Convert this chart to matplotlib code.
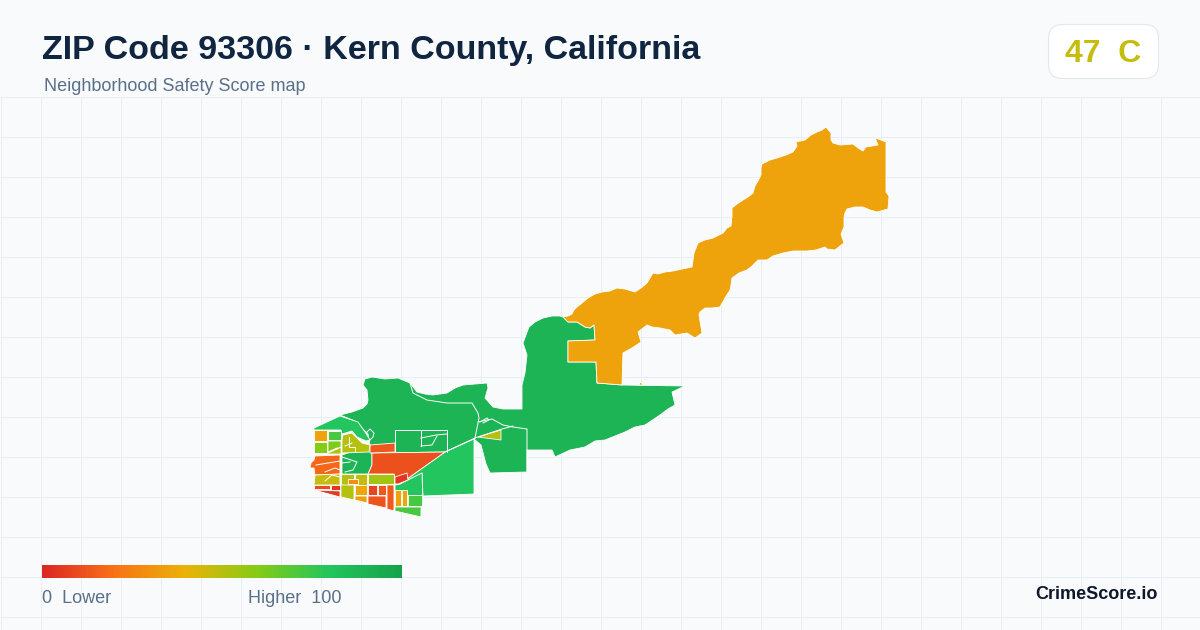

import matplotlib
matplotlib.use("Agg")
import matplotlib.pyplot as plt
import numpy as np
from matplotlib.colors import LinearSegmentedColormap
from matplotlib.patches import FancyBboxPatch, Polygon

plt.rcParams["font.family"] = ["Liberation Sans", "DejaVu Sans"]

TITLE = "ZIP Code 93306 · Kern County, California"
SUBTITLE = "Neighborhood Safety Score map"
OVERALL_SCORE = 47
OVERALL_GRADE = "C"

SCALE_STOPS = [0.0, 0.2, 0.4, 0.6, 0.8, 1.0]
SCALE_COLORS = ["#dc2626", "#f97316", "#eab308", "#84cc16", "#22c55e", "#16a34a"]

# tract outlines
EAST_TRACT = [
    (563, 317), (568, 316), (572, 314), (574, 310), (577, 307), (582, 303), (588, 298), (595, 294),
    (602, 292), (610, 291), (617, 288), (625, 289), (635, 292), (641, 288), (647, 283), (650, 278),
    (653, 273), (658, 274), (665, 272), (673, 271), (682, 269), (692, 267), (693, 260), (694, 253),
    (698, 243), (705, 240), (713, 238), (723, 233), (727, 228), (731, 226), (732, 216), (732, 208),
    (737, 204), (743, 200), (748, 197), (753, 193), (755, 186), (758, 181), (761, 175), (761, 168),
    (762, 164), (770, 160), (777, 158), (786, 155), (793, 152), (797, 146), (796, 142), (805, 140),
    (811, 135), (817, 132), (822, 130), (826, 127), (831, 133), (831, 140), (833, 143), (840, 145),
    (853, 144), (858, 148), (863, 151), (866, 147), (878, 145), (875, 138), (881, 140), (886, 142),
    (886, 170), (886, 192), (889, 196), (888, 209), (877, 212), (870, 210), (863, 207), (855, 207),
    (847, 209), (845, 213), (844, 218), (844, 227), (841, 234), (844, 243), (840, 246), (835, 250),
    (827, 249), (825, 247), (816, 250), (807, 251), (793, 251), (783, 253), (773, 256), (767, 260),
    (758, 260), (752, 266), (747, 270), (739, 273), (732, 278), (731, 285), (730, 290), (725, 298),
    (720, 307), (712, 308), (705, 308), (700, 312), (699, 315), (702, 333), (695, 338), (687, 333),
    (675, 335), (670, 330), (660, 328), (652, 327), (647, 325), (638, 332), (641, 342), (632, 348),
    (623, 353), (622, 385), (597, 383), (596, 362), (568, 362), (568, 341), (595, 340), (594, 325),
    (590, 328), (585, 327), (577, 322), (568, 322),
]
EAST_SLIVER = [(639, 385), (640, 382), (644, 385)]
MAIN_TRACT = [
    (314, 428), (340, 415), (352, 412), (363, 408), (367, 404), (368, 400), (367, 390), (363, 385),
    (365, 379), (372, 377), (385, 379), (398, 378), (410, 383), (417, 392), (425, 394), (433, 395),
    (447, 393), (455, 388), (463, 385), (475, 384), (487, 383), (488, 388), (485, 398), (493, 407),
    (503, 409), (522, 409), (522, 385), (525, 373), (527, 355), (523, 343), (526, 335), (529, 327),
    (535, 322), (543, 318), (552, 316), (560, 316), (563, 317), (568, 322), (577, 322), (585, 327),
    (590, 328), (594, 325), (595, 340), (568, 341), (568, 362), (596, 362), (597, 383), (622, 385),
    (685, 386), (672, 392), (675, 405), (668, 409), (660, 415), (645, 425), (635, 427), (625, 432),
    (605, 440), (595, 441), (585, 447), (570, 450), (555, 457), (552, 450), (527, 450), (527, 472),
    (490, 473), (486, 464), (481, 445), (474, 439), (445, 452), (372, 453), (372, 465), (368, 474),
    (342, 474), (342, 455), (370, 445), (368, 434), (355, 421), (340, 415),
]
NORTHWEST_STRIP = [
    (314, 428), (340, 416), (358, 422), (365, 432), (370, 440), (366, 441), (357, 437), (352, 431),
    (342, 434), (341, 430), (314, 430),
]
SOUTHEAST_TRACT = [(445, 452), (474, 439), (474, 494), (423, 496), (422, 473), (400, 484)]
SOUTH_LOBE = [(400, 484), (422, 473), (423, 505), (408, 505), (408, 495), (395, 495), (395, 485)]
SOUTH_TIP = [(395, 507), (421, 507), (421, 517), (395, 511)]
SOUTH_BOX = [(408, 495), (422, 495), (422, 506), (408, 506)]
STRIP_A = [(395, 490), (401, 490), (401, 506), (395, 506)]
STRIP_B = [(402, 490), (407, 490), (407, 506), (402, 506)]
BIG_WEDGE = [(372, 453), (445, 452), (400, 484), (394, 484), (394, 474), (368, 474), (372, 465)]
SMALL_WEDGE = [(395, 477), (407, 473), (408, 480), (398, 484), (395, 484)]
TOP_BAND = [(370, 445), (395, 443), (395, 452), (370, 453)]
NE_TRIANGLE = [(478, 437), (501, 430), (501, 440)]
CELL_1 = [(314, 430), (327, 430), (327, 441), (314, 441)]
CELL_2 = [(328, 431), (341, 431), (341, 440), (328, 440)]
CELL_3 = [(314, 442), (327, 442), (327, 453), (314, 453)]
CELL_4 = [(328, 441), (341, 441), (341, 448), (337, 448), (328, 452)]
CELL_4B = [(337, 449), (341, 447), (341, 454), (328, 454), (328, 453)]
CELL_5 = [(342, 440), (343, 435), (352, 433), (357, 438), (362, 443), (370, 445), (369, 452), (342, 453)]
CELL_6 = [(315, 456), (340, 455), (340, 474), (315, 475), (314, 468), (310, 468), (311, 463), (314, 460)]
CELL_7 = [(315, 475), (340, 474), (340, 485), (314, 485)]
CELL_8 = [(341, 474), (354, 474), (354, 485), (341, 485)]
CELL_10 = [(355, 474), (367, 474), (367, 485), (355, 485)]
CELL_9 = [(348, 479), (358, 479), (358, 484), (348, 484)]
CELL_11 = [(368, 474), (394, 474), (394, 484), (368, 484)]
CELL_12 = [(314, 485), (330, 485), (330, 489), (314, 489)]
CELL_12B = [(331, 485), (340, 485), (340, 490), (331, 490)]
CELL_12C = [(314, 490), (340, 491), (340, 497)]
CELL_13 = [(341, 485), (354, 485), (354, 500), (341, 497)]
CELL_14 = [(355, 485), (367, 485), (367, 495), (355, 495)]
CELL_15 = [(368, 485), (377, 485), (377, 495), (368, 495)]
CELL_16 = [(378, 485), (386, 485), (386, 495), (378, 495)]
CELL_17 = [(387, 485), (394, 485), (394, 511), (387, 509)]
CELL_18 = [(355, 496), (367, 496), (367, 503), (355, 500)]
CELL_19 = [(368, 496), (386, 496), (386, 508), (368, 504)]

TRACTS = [
    MAIN_TRACT, EAST_TRACT, EAST_SLIVER, NORTHWEST_STRIP, SOUTHEAST_TRACT, SOUTH_LOBE,
    SOUTH_TIP, SOUTH_BOX, STRIP_A, STRIP_B, BIG_WEDGE, SMALL_WEDGE, TOP_BAND, NE_TRIANGLE,
    CELL_1, CELL_2, CELL_3, CELL_4, CELL_4B, CELL_5, CELL_6, CELL_7, CELL_8, CELL_10, CELL_9,
    CELL_11, CELL_12, CELL_12B, CELL_12C, CELL_13, CELL_14, CELL_15, CELL_16, CELL_17,
    CELL_18, CELL_19,
]
TRACT_SCORES = [
    90, 35, 35, 80, 80, 80,
    72, 72, 35, 36, 11, 4, 13, 50,
    35, 72, 60, 61, 50, 50, 17, 47, 50, 48, 28,
    54, 10, 4, 5, 50, 36, 8, 13, 14,
    34, 12,
]

# thin boundaries inside the tracts
BOUNDARIES = [
    [(410, 383), (413, 393), (427, 400), (447, 403), (472, 403), (478, 413), (479, 418), (475, 438)],
    [(395, 452), (395, 430), (447, 430), (447, 452)],
    [(421, 430), (421, 446)],
    [(421, 438), (436, 435), (447, 434)],
    [(421, 446), (432, 445), (437, 436)],
    [(367, 432), (370, 429), (374, 433), (373, 437), (370, 440)],
    [(478, 422), (492, 419), (503, 425), (513, 427), (527, 429), (527, 471)],
    [(480, 422), (487, 418), (489, 420), (483, 423)],
    [(475, 438), (502, 429), (513, 426)],
    [(445, 452), (475, 438)],
    [(342, 457), (357, 462), (353, 470), (345, 472)],
    [(342, 463), (350, 462)],
    [(349, 437), (349, 447), (355, 447), (355, 452)],
    [(345, 446), (352, 443)],
    [(316, 465), (340, 461)],
    [(325, 472), (335, 468), (340, 470)],
    [(325, 481), (332, 475), (340, 477)],
]

SCALE_LOW = "0  Lower"
SCALE_HIGH = "Higher  100"
BRAND = "CrimeScore.io"

score_cmap = LinearSegmentedColormap.from_list("safety", list(zip(SCALE_STOPS, SCALE_COLORS)))

fig = plt.figure(figsize=(12, 6.3), dpi=100, facecolor="#f8fafc")
ax = fig.add_axes([0, 0, 1, 1])
ax.set_facecolor("#f8fafc")
ax.axis("off")

# background grid, only under the header
ax.vlines(np.arange(0.5, 1200, 40), 96.5, 630, color="#e8eff4", lw=0.72, zorder=1)
ax.hlines(np.arange(96.5, 630, 40), 0, 1200, color="#e8eff4", lw=0.72, zorder=1)

for shape, score in zip(TRACTS, TRACT_SCORES):
    ax.add_patch(Polygon(shape, closed=True, facecolor=score_cmap(score / 100),
                         edgecolor="white", lw=0.6, joinstyle="round", zorder=2))
for line in BOUNDARIES:
    xs, ys = zip(*line)
    ax.plot(xs, ys, color="white", lw=0.7, zorder=3)

ax.text(42, 59, TITLE, fontsize=24.5, fontweight="bold", color="#0f2540", va="baseline")
ax.text(44, 91, SUBTITLE, fontsize=12.95, color="#5a7089", va="baseline")

ax.add_patch(FancyBboxPatch((1048.5 + 14, 24.5 + 14), 110 - 28, 54 - 28, boxstyle="round,pad=14,rounding_size=14",
                            facecolor="white", edgecolor="#e2e8f0", lw=0.8, zorder=2))
ax.text(1065, 62, f"{OVERALL_SCORE}  {OVERALL_GRADE}", fontsize=23, fontweight="bold",
        color=score_cmap(OVERALL_SCORE / 100), va="baseline", zorder=3)

ramp = np.linspace(0, 1, 360).reshape(1, -1)
ax.imshow(ramp, cmap=score_cmap, extent=(42, 402, 578, 565), aspect="auto", zorder=2)
ax.text(42, 603, SCALE_LOW, fontsize=12.95, color="#5a7089", va="baseline")
ax.text(342, 603, SCALE_HIGH, fontsize=12.95, color="#5a7089", va="baseline", ha="right")
ax.text(1158, 599, BRAND, fontsize=13, fontweight="bold", color="#0f172a", va="baseline", ha="right")

ax.set_xlim(0, 1200)
ax.set_ylim(630, 0)

fig.savefig("out.png", dpi=100, facecolor=fig.get_facecolor())
